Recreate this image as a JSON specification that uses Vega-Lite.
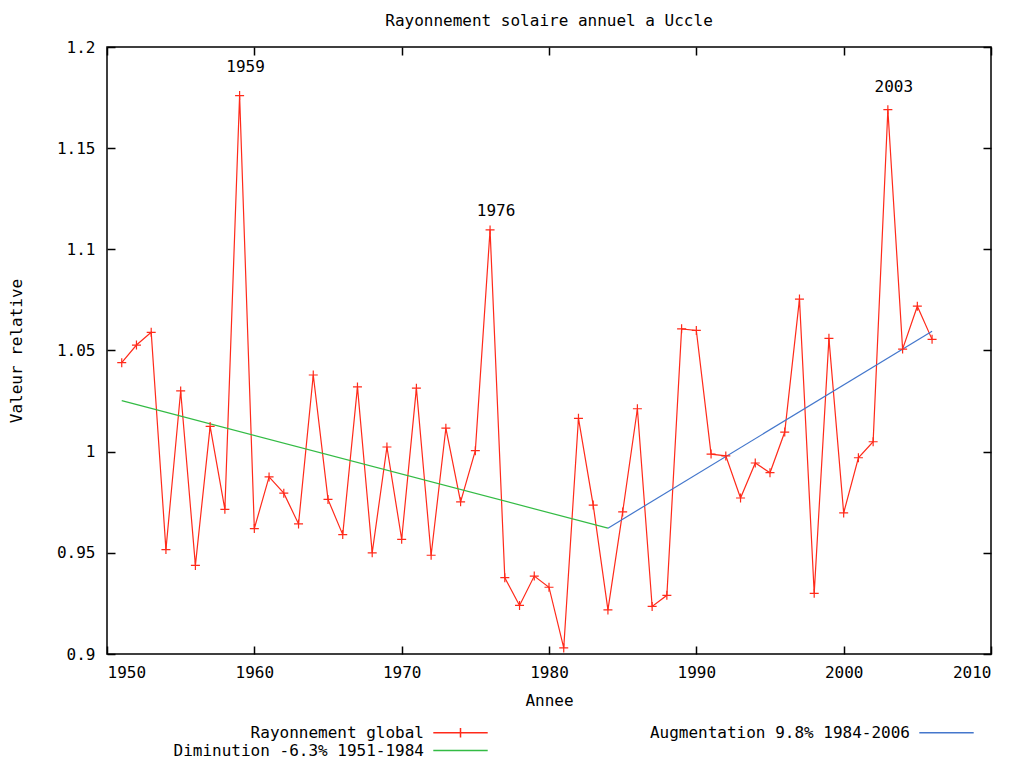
{
  "$schema": "https://vega.github.io/schema/vega-lite/v6.json",
  "width": 884,
  "height": 607,
  "autosize": {"type": "none"},
  "padding": {"left": 107, "top": 47, "right": 28, "bottom": 104},
  "background": "white",
  "title": {
    "text": "Rayonnement solaire annuel a Uccle",
    "font": "DejaVu Sans Mono",
    "fontSize": 16,
    "fontWeight": "normal",
    "color": "black",
    "anchor": "middle",
    "offset": 10
  },
  "config": {
    "view": {"stroke": "black", "strokeWidth": 1.5},
    "font": "DejaVu Sans Mono",
    "axis": {
      "labelFont": "DejaVu Sans Mono",
      "titleFont": "DejaVu Sans Mono",
      "labelFontSize": 16,
      "titleFontSize": 16,
      "titleFontWeight": "normal",
      "labelColor": "black",
      "titleColor": "black",
      "tickColor": "black",
      "tickWidth": 1.5,
      "domain": false,
      "grid": false,
      "tickSize": -8
    }
  },
  "datasets": {
    "solar": [
      {"year": 1951, "value": 1.044, "series": "Rayonnement global"},
      {"year": 1952, "value": 1.0527, "series": "Rayonnement global"},
      {"year": 1953, "value": 1.059, "series": "Rayonnement global"},
      {"year": 1954, "value": 0.9516, "series": "Rayonnement global"},
      {"year": 1955, "value": 1.030, "series": "Rayonnement global"},
      {"year": 1956, "value": 0.9438, "series": "Rayonnement global"},
      {"year": 1957, "value": 1.0125, "series": "Rayonnement global"},
      {"year": 1958, "value": 0.9715, "series": "Rayonnement global"},
      {"year": 1959, "value": 1.176, "series": "Rayonnement global"},
      {"year": 1960, "value": 0.962, "series": "Rayonnement global"},
      {"year": 1961, "value": 0.9875, "series": "Rayonnement global"},
      {"year": 1962, "value": 0.9795, "series": "Rayonnement global"},
      {"year": 1963, "value": 0.9643, "series": "Rayonnement global"},
      {"year": 1964, "value": 1.0379, "series": "Rayonnement global"},
      {"year": 1965, "value": 0.9764, "series": "Rayonnement global"},
      {"year": 1966, "value": 0.959, "series": "Rayonnement global"},
      {"year": 1967, "value": 1.032, "series": "Rayonnement global"},
      {"year": 1968, "value": 0.950, "series": "Rayonnement global"},
      {"year": 1969, "value": 1.0023, "series": "Rayonnement global"},
      {"year": 1970, "value": 0.9567, "series": "Rayonnement global"},
      {"year": 1971, "value": 1.0314, "series": "Rayonnement global"},
      {"year": 1972, "value": 0.9488, "series": "Rayonnement global"},
      {"year": 1973, "value": 1.0116, "series": "Rayonnement global"},
      {"year": 1974, "value": 0.9752, "series": "Rayonnement global"},
      {"year": 1975, "value": 1.0005, "series": "Rayonnement global"},
      {"year": 1976, "value": 1.1096, "series": "Rayonnement global"},
      {"year": 1977, "value": 0.9377, "series": "Rayonnement global"},
      {"year": 1978, "value": 0.924, "series": "Rayonnement global"},
      {"year": 1979, "value": 0.9385, "series": "Rayonnement global"},
      {"year": 1980, "value": 0.933, "series": "Rayonnement global"},
      {"year": 1981, "value": 0.903, "series": "Rayonnement global"},
      {"year": 1982, "value": 1.0165, "series": "Rayonnement global"},
      {"year": 1983, "value": 0.9736, "series": "Rayonnement global"},
      {"year": 1984, "value": 0.9218, "series": "Rayonnement global"},
      {"year": 1985, "value": 0.9702, "series": "Rayonnement global"},
      {"year": 1986, "value": 1.0212, "series": "Rayonnement global"},
      {"year": 1987, "value": 0.9235, "series": "Rayonnement global"},
      {"year": 1988, "value": 0.929, "series": "Rayonnement global"},
      {"year": 1989, "value": 1.0607, "series": "Rayonnement global"},
      {"year": 1990, "value": 1.0599, "series": "Rayonnement global"},
      {"year": 1991, "value": 0.9988, "series": "Rayonnement global"},
      {"year": 1992, "value": 0.9979, "series": "Rayonnement global"},
      {"year": 1993, "value": 0.9771, "series": "Rayonnement global"},
      {"year": 1994, "value": 0.9944, "series": "Rayonnement global"},
      {"year": 1995, "value": 0.9896, "series": "Rayonnement global"},
      {"year": 1996, "value": 1.0097, "series": "Rayonnement global"},
      {"year": 1997, "value": 1.0754, "series": "Rayonnement global"},
      {"year": 1998, "value": 0.930, "series": "Rayonnement global"},
      {"year": 1999, "value": 1.056, "series": "Rayonnement global"},
      {"year": 2000, "value": 0.9697, "series": "Rayonnement global"},
      {"year": 2001, "value": 0.997, "series": "Rayonnement global"},
      {"year": 2002, "value": 1.0049, "series": "Rayonnement global"},
      {"year": 2003, "value": 1.169, "series": "Rayonnement global"},
      {"year": 2004, "value": 1.0507, "series": "Rayonnement global"},
      {"year": 2005, "value": 1.0719, "series": "Rayonnement global"},
      {"year": 2006, "value": 1.0555, "series": "Rayonnement global"},
      {"year": 1951, "value": 1.0252, "series": "Diminution -6.3% 1951-1984"},
      {"year": 1984, "value": 0.9622, "series": "Diminution -6.3% 1951-1984"},
      {"year": 1984, "value": 0.9622, "series": "Augmentation 9.8% 1984-2006"},
      {"year": 2006, "value": 1.0595, "series": "Augmentation 9.8% 1984-2006"}
    ],
    "peaks": [
      {"year": 1959, "value": 1.19, "label": "1959"},
      {"year": 1976, "value": 1.119, "label": "1976"},
      {"year": 2003, "value": 1.18, "label": "2003"}
    ]
  },
  "layer": [
    {
      "data": {"name": "solar"},
      "mark": {"type": "line", "strokeWidth": 1.2},
      "encoding": {
        "x": {
          "field": "year", "type": "quantitative",
          "scale": {"domain": [1950, 2010], "nice": false, "zero": false},
          "axis": {"orient": "bottom", "values": [1950, 1960, 1970, 1980, 1990, 2000, 2010], "format": "d", "title": "Annee", "labelPadding": 18, "titlePadding": 12}
        },
        "y": {
          "field": "value", "type": "quantitative",
          "scale": {"domain": [0.9, 1.2], "nice": false, "zero": false},
          "axis": {"orient": "left", "values": [0.9, 0.95, 1, 1.05, 1.1, 1.15, 1.2], "format": "~g", "title": "Valeur relative", "labelPadding": 20, "titlePadding": 32}
        },
        "color": {
          "field": "series", "type": "nominal",
          "scale": {
            "domain": ["Rayonnement global", "Augmentation 9.8% 1984-2006", "Diminution -6.3% 1951-1984"],
            "range": ["#ff2a1a", "#4477cc", "#33bb44"]
          },
          "legend": {
            "title": null,
            "orient": "none",
            "legendX": 344,
            "legendY": 676,
            "columns": 2,
            "direction": "horizontal",
            "symbolType": "M-3.2,0L3.2,0",
            "symbolSize": 289,
            "symbolStrokeWidth": 1.5,
            "symbolFillColor": "transparent",
            "labelAlign": "right",
            "labelOffset": -46,
            "labelFont": "DejaVu Sans Mono",
            "labelFontSize": 16,
            "labelColor": "black",
            "labelLimit": 0,
            "columnPadding": 158,
            "rowPadding": 0,
            "encode": {
              "symbols": {
                "update": {
                  "shape": {"signal": "datum.label === 'Rayonnement global' ? 'M-3.2,0L3.2,0M0,-0.55L0,0.55' : 'M-3.2,0L3.2,0'"}
                }
              }
            }
          }
        },
        "order": {"field": "year", "type": "quantitative"}
      }
    },
    {
      "data": {"name": "solar"},
      "transform": [{"filter": "datum.series === 'Rayonnement global'"}],
      "mark": {"type": "point", "shape": "M-1,0L1,0M0,-1L0,1", "filled": false, "size": 81, "strokeWidth": 1.2, "color": "#ff2a1a", "opacity": 1},
      "encoding": {
        "x": {"field": "year", "type": "quantitative", "axis": {"orient": "top", "values": [1950, 1960, 1970, 1980, 1990, 2000, 2010], "labels": false, "title": null}},
        "y": {"field": "value", "type": "quantitative", "axis": {"orient": "right", "values": [0.9, 0.95, 1, 1.05, 1.1, 1.15, 1.2], "labels": false, "title": null}}
      }
    },
    {
      "data": {"name": "peaks"},
      "mark": {"type": "text", "font": "DejaVu Sans Mono", "fontSize": 16, "color": "black", "dx": 6, "baseline": "middle"},
      "encoding": {
        "x": {"field": "year", "type": "quantitative", "axis": null},
        "y": {"field": "value", "type": "quantitative", "axis": null},
        "text": {"field": "label"}
      }
    }
  ],
  "resolve": {"axis": {"x": "independent", "y": "independent"}}
}
